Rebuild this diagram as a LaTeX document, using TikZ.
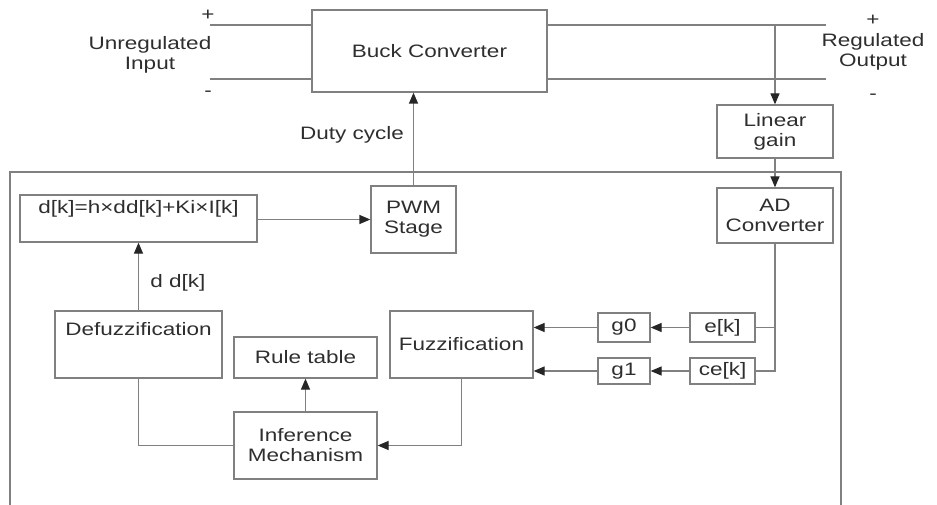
\documentclass[tikz,border=0pt]{standalone}
\usepackage{fontspec}
\setmainfont[FakeStretch=1.25]{Liberation Sans}
\usetikzlibrary{arrows.meta,calc}
\definecolor{ln}{HTML}{808080}
\definecolor{tx}{HTML}{2E2E2E}
\begin{document}
\begin{tikzpicture}[x=1pt,y=-1pt,
  font=\fontsize{18}{20}\selectfont,
  every node/.style={text=tx},
  box/.style={draw=ln,line width=1.3pt,rectangle,inner sep=0pt,align=center},
  wire/.style={draw=ln,line width=1.3pt},
  arr/.style={wire,-{Triangle[length=11pt,width=9pt,fill=black!85,color=black!85]}}]
\useasboundingbox (0,0) rectangle (937,505);
% outer frame
\draw[wire] (10,505) -- (10,172) -- (841,172) -- (841,505);
% nodes
\node[box,minimum width=235,minimum height=82] (buck) at (429.5,51) {Buck Converter};
\node[box,minimum width=116,minimum height=53] (lin) at (775,131.5) {Linear\\gain};
\node[box,minimum width=116,minimum height=55] (ad) at (775,215.5) {AD\\Converter};
\node[box,minimum width=85,minimum height=67] (pwm) at (413.5,219.5) {PWM\\Stage};
\node[box,minimum width=237,minimum height=47,
  label={[anchor=north,inner sep=0pt,yshift=-6pt,text=tx]north:{d[k]=h×dd[k]+Ki×I[k]}}] (form) at (138.5,218.5) {};
\node[box,minimum width=167,minimum height=67,
  label={[anchor=north,inner sep=0pt,yshift=-12pt,text=tx]north:{Defuzzification}}] (defuz) at (138.5,344.5) {};
\node[box,minimum width=143,minimum height=67] (fuz) at (461.5,344.5) {Fuzzification};
\node[box,minimum width=143,minimum height=41] (rule) at (305.5,357.5) {Rule table};
\node[box,minimum width=143,minimum height=67] (inf) at (305.5,445.5) {Inference\\Mechanism};
\node[box,minimum width=65,minimum height=29] (ek) at (722.5,327.5) {e[k]};
\node[box,minimum width=65,minimum height=26] (cek) at (722.5,371) {ce[k]};
\node[box,minimum width=52,minimum height=29] (g0) at (624,327.5) {g0};
\node[box,minimum width=52,minimum height=26] (g1) at (624,371) {g1};
% terminals
\coordinate (in1) at (210,25);
\coordinate (in2) at (210,79);
\coordinate (out1) at (826,25);
\coordinate (out2) at (826,79);
\coordinate (tap) at (775,25);
\draw[wire] (in1) -- (in1 -| buck.west);
\draw[wire] (in2) -- (in2 -| buck.west);
\draw[wire] (out1 -| buck.east) -- (out1);
\draw[wire] (out2 -| buck.east) -- (out2);
\node (pin) at (208,15) {+};
\node (min) at (208,94) {-};
\node (pout) at (873,20) {+};
\node (mout) at (873,97) {-};
\node[align=center] (unreg) at (150,55) {Unregulated\\Input};
\node[align=center] (reg) at (873,52) {Regulated\\Output};
% connectors
\draw[arr] (tap) -- (tap |- lin.north);
\draw[arr] (lin.south) -- (ad.north);
\draw[arr] (pwm.north) -- (pwm.north |- buck.south);
\node (duty) at (352,135) {Duty cycle};
\draw[arr] (form.east |- pwm.west) -- (pwm.west);
\draw[arr] (defuz.north) -- (form.south);
\node (ddk) at (178,283) {d d[k]};
\draw[wire] (ad.south) -- (ad.south |- cek.east) -- (cek.east);
\draw[wire] (ek.east) -- (ek.east -| ad.south);
\draw[arr] (ek.west) -- (g0.east);
\draw[arr] (cek.west) -- (g1.east);
\draw[arr] (g0.west) -- (g0.west -| fuz.east);
\draw[arr] (g1.west) -- (g1.west -| fuz.east);
\draw[arr] (inf.north) -- (rule.south);
\draw[arr] (fuz.south) |- (inf.east);
\draw[wire] (defuz.south) |- (inf.west);
\end{tikzpicture}
\end{document}
